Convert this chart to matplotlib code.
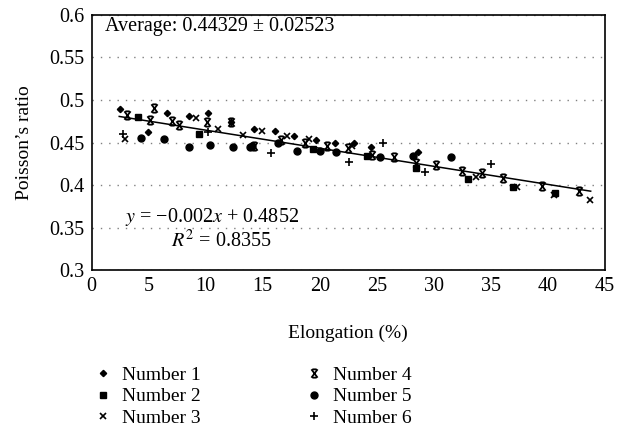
import numpy as np
import matplotlib
matplotlib.use("Agg")
import matplotlib.pyplot as plt
from matplotlib.path import Path

plt.rcParams['font.family'] = ['Liberation Serif', 'DejaVu Serif']
plt.rcParams['mathtext.fontset'] = 'stix'

# Data (elongation %, Poisson's ratio)
n1_x = [2.46, 4.97, 6.61, 8.57, 10.23, 12.21, 14.25, 16.04, 17.76, 19.66, 21.32, 23.0, 24.54, 28.61]
n1_y = [0.489, 0.462, 0.485, 0.481, 0.484, 0.474, 0.466, 0.463, 0.458, 0.453, 0.450, 0.449, 0.445, 0.439]

n2_x = [4.05, 9.39, 19.37, 24.14, 28.41, 32.99, 36.96, 40.61]
n2_y = [0.4795, 0.4596, 0.4420, 0.4338, 0.4197, 0.4068, 0.3981, 0.3904]

n3_x = [2.91, 9.17, 11.13, 13.24, 14.95, 17.12, 19.07, 22.81, 33.73, 37.31, 40.50, 43.73]
n3_y = [0.4544, 0.4787, 0.4658, 0.4587, 0.4638, 0.4579, 0.4537, 0.4462, 0.4099, 0.3981, 0.3890, 0.3825]

n4_x = [3.11, 5.12, 5.44, 7.05, 7.69, 10.09, 12.21, 14.22, 16.65, 18.69, 20.68, 22.52, 24.62,
        26.55, 28.41, 30.22, 32.44, 34.19, 36.09, 39.45, 42.77]
n4_y = [0.4819, 0.4760, 0.4900, 0.4748, 0.4701, 0.4740, 0.4743, 0.4458, 0.4529, 0.4497, 0.4458,
        0.4431, 0.4349, 0.4333, 0.4256, 0.4236, 0.4169, 0.4145, 0.4080, 0.3989, 0.3931]

n5_x = [4.36, 6.33, 8.51, 10.37, 12.37, 13.87, 14.11, 16.33, 18.05, 20.04, 21.46, 25.25, 28.21, 31.54]
n5_y = [0.4552, 0.4537, 0.4443, 0.4470, 0.4450, 0.4450, 0.4458, 0.4490, 0.4396, 0.4403, 0.4388,
        0.4326, 0.4345, 0.4326]

n6_x = [2.78, 10.18, 15.77, 22.60, 25.55, 29.23, 35.04]
n6_y = [0.4603, 0.4619, 0.4380, 0.4267, 0.4490, 0.4157, 0.4247]

# trendline as drawn
trend_x = [2.43, 43.75]
slope, intercept = -0.00212, 0.4857

# x marker with short bars on top and bottom
xbar = Path([(-0.75, -1), (0.75, 1), (-0.75, 1), (0.75, -1),
             (-0.5, 1), (0.5, 1), (-0.5, -1), (0.5, -1)],
            [Path.MOVETO, Path.LINETO, Path.MOVETO, Path.LINETO,
             Path.MOVETO, Path.LINETO, Path.MOVETO, Path.LINETO])

fig = plt.figure(figsize=(6.39, 4.36), dpi=100)
ax = fig.add_axes([0.1432, 0.3796, 0.8035, 0.5871])

h1, = ax.plot(n1_x, n1_y, 'D', color='black', ms=3.2, ls='none', label='Number 1')
h2, = ax.plot(n2_x, n2_y, 's', color='black', ms=5, ls='none', label='Number 2')
h3, = ax.plot(n3_x, n3_y, 'x', color='black', ms=5, mew=1.2, ls='none', label='Number 3')
h4, = ax.plot(n4_x, n4_y, marker=xbar, color='black', ms=6, mew=1.3, ls='none', label='Number 4')
h5, = ax.plot(n5_x, n5_y, 'o', color='black', ms=5, ls='none', label='Number 5')
h6, = ax.plot(n6_x, n6_y, '+', color='black', ms=6, mew=1.2, ls='none', label='Number 6')

tx = np.array(trend_x)
ax.plot(tx, slope * tx + intercept, color='black', lw=1.1)

ax.set_xlim(0, 45)
ax.set_ylim(0.3, 0.6)
ax.set_xticks(range(0, 46, 5))
ax.set_yticks([0.3, 0.35, 0.4, 0.45, 0.5, 0.55, 0.6])
ax.set_yticklabels(['0.3', '0.35', '0.4', '0.45', '0.5', '0.55', '0.6'])
ax.tick_params(length=0, labelsize=14.5, pad=5)
ax.yaxis.grid(True, ls=(0, (1, 5)), color='gray', lw=1)
for s in ax.spines.values():
    s.set_linewidth(1.2)

ax.set_xlabel('Elongation (%)', fontsize=14, labelpad=20)
ax.set_ylabel('Poisson’s ratio', fontsize=14, labelpad=12)

ax.text(1.2, 0.5865, 'Average: 0.44329 ± 0.02523', fontsize=14.5, va='center')
ax.text(2.9, 0.3626, '$y$ = −0.002$x$ + 0.4852', fontsize=14.5, va='center')
ax.text(7.0, 0.3345, '$R^2$ = 0.8355', fontsize=14.5, va='center')

fig.legend(handles=[h1, h2, h3, h4, h5, h6], ncol=2, frameon=False, fontsize=14,
           loc='upper left', bbox_to_anchor=(0.118, 0.2), handlelength=1.0,
           handletextpad=0.5, columnspacing=5.3, labelspacing=0.2)

fig.savefig('out.png', dpi=100)
